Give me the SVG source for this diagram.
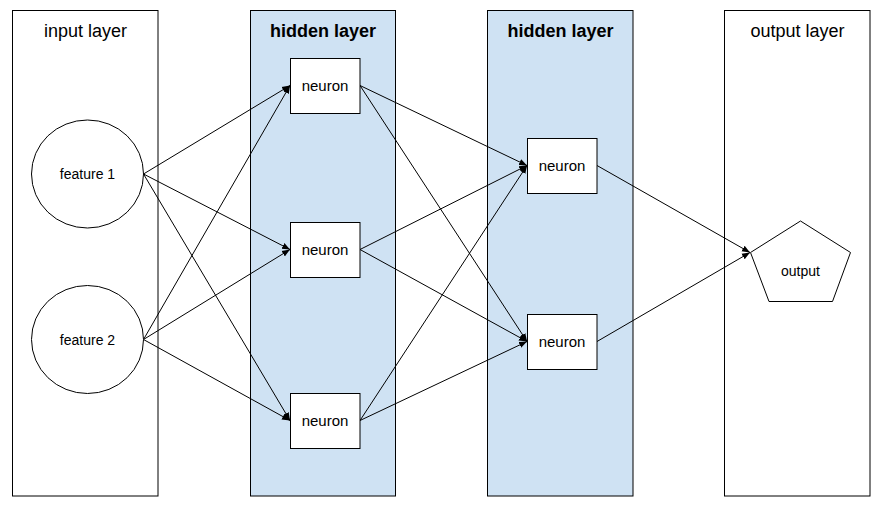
<svg xmlns="http://www.w3.org/2000/svg" width="882" height="516" viewBox="0 0 882 516">
<defs>
<marker id="arr" viewBox="0 0 10 10" refX="10" refY="5" markerWidth="8" markerHeight="8" markerUnits="userSpaceOnUse" orient="auto">
<path d="M0,1 L10,5 L0,9 z" fill="#000"/>
</marker>
<style>
.layer{stroke:#000;stroke-width:1}
.plain{fill:#fff}
.hid{fill:#cfe2f3}
.node{fill:#fff;stroke:#000;stroke-width:1}
.title{font-family:"Liberation Sans",Arial,sans-serif;font-size:18px;text-anchor:middle;fill:#000}
.bold{font-weight:bold}
.lbl{font-family:"Liberation Sans",Arial,sans-serif;font-size:15px;text-anchor:middle;fill:#000}
.flbl{font-family:"Liberation Sans",Arial,sans-serif;font-size:14px;text-anchor:middle;fill:#000}
.edge{stroke:#000;stroke-width:1;fill:none;marker-end:url(#arr)}
</style>
</defs>
<rect width="882" height="516" fill="#fff"/>
<g id="layer-input"><rect class="layer plain" x="12.5" y="10.5" width="145.5" height="485.5"/><text class="title" x="85.5" y="37">input layer</text></g>
<g id="layer-hidden1"><rect class="layer hid" x="250.5" y="10.5" width="145" height="485.5"/><text class="title bold" x="323" y="37">hidden layer</text></g>
<g id="layer-hidden2"><rect class="layer hid" x="487.5" y="10.5" width="145.5" height="485.5"/><text class="title bold" x="560.5" y="37">hidden layer</text></g>
<g id="layer-output"><rect class="layer plain" x="724.5" y="10.5" width="145.5" height="485.5"/><text class="title" x="797.5" y="37">output layer</text></g>
<g id="connectors">
<line class="edge" x1="143.5" y1="174" x2="290" y2="85.5"/>
<line class="edge" x1="143.5" y1="174" x2="290" y2="249.5"/>
<line class="edge" x1="143.5" y1="174" x2="290" y2="420.5"/>
<line class="edge" x1="143.5" y1="339.5" x2="290" y2="85.5"/>
<line class="edge" x1="143.5" y1="339.5" x2="290" y2="249.5"/>
<line class="edge" x1="143.5" y1="339.5" x2="290" y2="420.5"/>
<line class="edge" x1="360" y1="85.5" x2="527" y2="165.5"/>
<line class="edge" x1="360" y1="85.5" x2="527" y2="341.5"/>
<line class="edge" x1="360" y1="249.5" x2="527" y2="165.5"/>
<line class="edge" x1="360" y1="249.5" x2="527" y2="341.5"/>
<line class="edge" x1="360" y1="420.5" x2="527" y2="165.5"/>
<line class="edge" x1="360" y1="420.5" x2="527" y2="341.5"/>
<line class="edge" x1="597" y1="165.5" x2="750" y2="252.5"/>
<line class="edge" x1="597" y1="341.5" x2="750" y2="252.5"/>
</g>
<g id="feature1"><ellipse class="node" cx="87.5" cy="174" rx="56" ry="54"/><text class="flbl" x="87.5" y="179">feature 1</text></g>
<g id="feature2"><ellipse class="node" cx="87.5" cy="339.5" rx="56" ry="54"/><text class="flbl" x="87.5" y="344.5">feature 2</text></g>
<g id="h1-n1"><rect class="node" x="290.5" y="58.5" width="69.5" height="55"/><text class="lbl" x="325" y="91">neuron</text></g>
<g id="h1-n2"><rect class="node" x="290.5" y="222.5" width="69.5" height="55"/><text class="lbl" x="325" y="255">neuron</text></g>
<g id="h1-n3"><rect class="node" x="290.5" y="393.5" width="69.5" height="55"/><text class="lbl" x="325" y="426">neuron</text></g>
<g id="h2-n1"><rect class="node" x="527.5" y="138.5" width="69.5" height="55"/><text class="lbl" x="562" y="171">neuron</text></g>
<g id="h2-n2"><rect class="node" x="527.5" y="314.5" width="69.5" height="55"/><text class="lbl" x="562" y="347">neuron</text></g>
<g id="output"><polygon class="node" points="800.5,221 850.5,252.5 832.5,301.5 769,301.5 750.5,252.5"/><text class="flbl" x="800.5" y="276">output</text></g>
</svg>
